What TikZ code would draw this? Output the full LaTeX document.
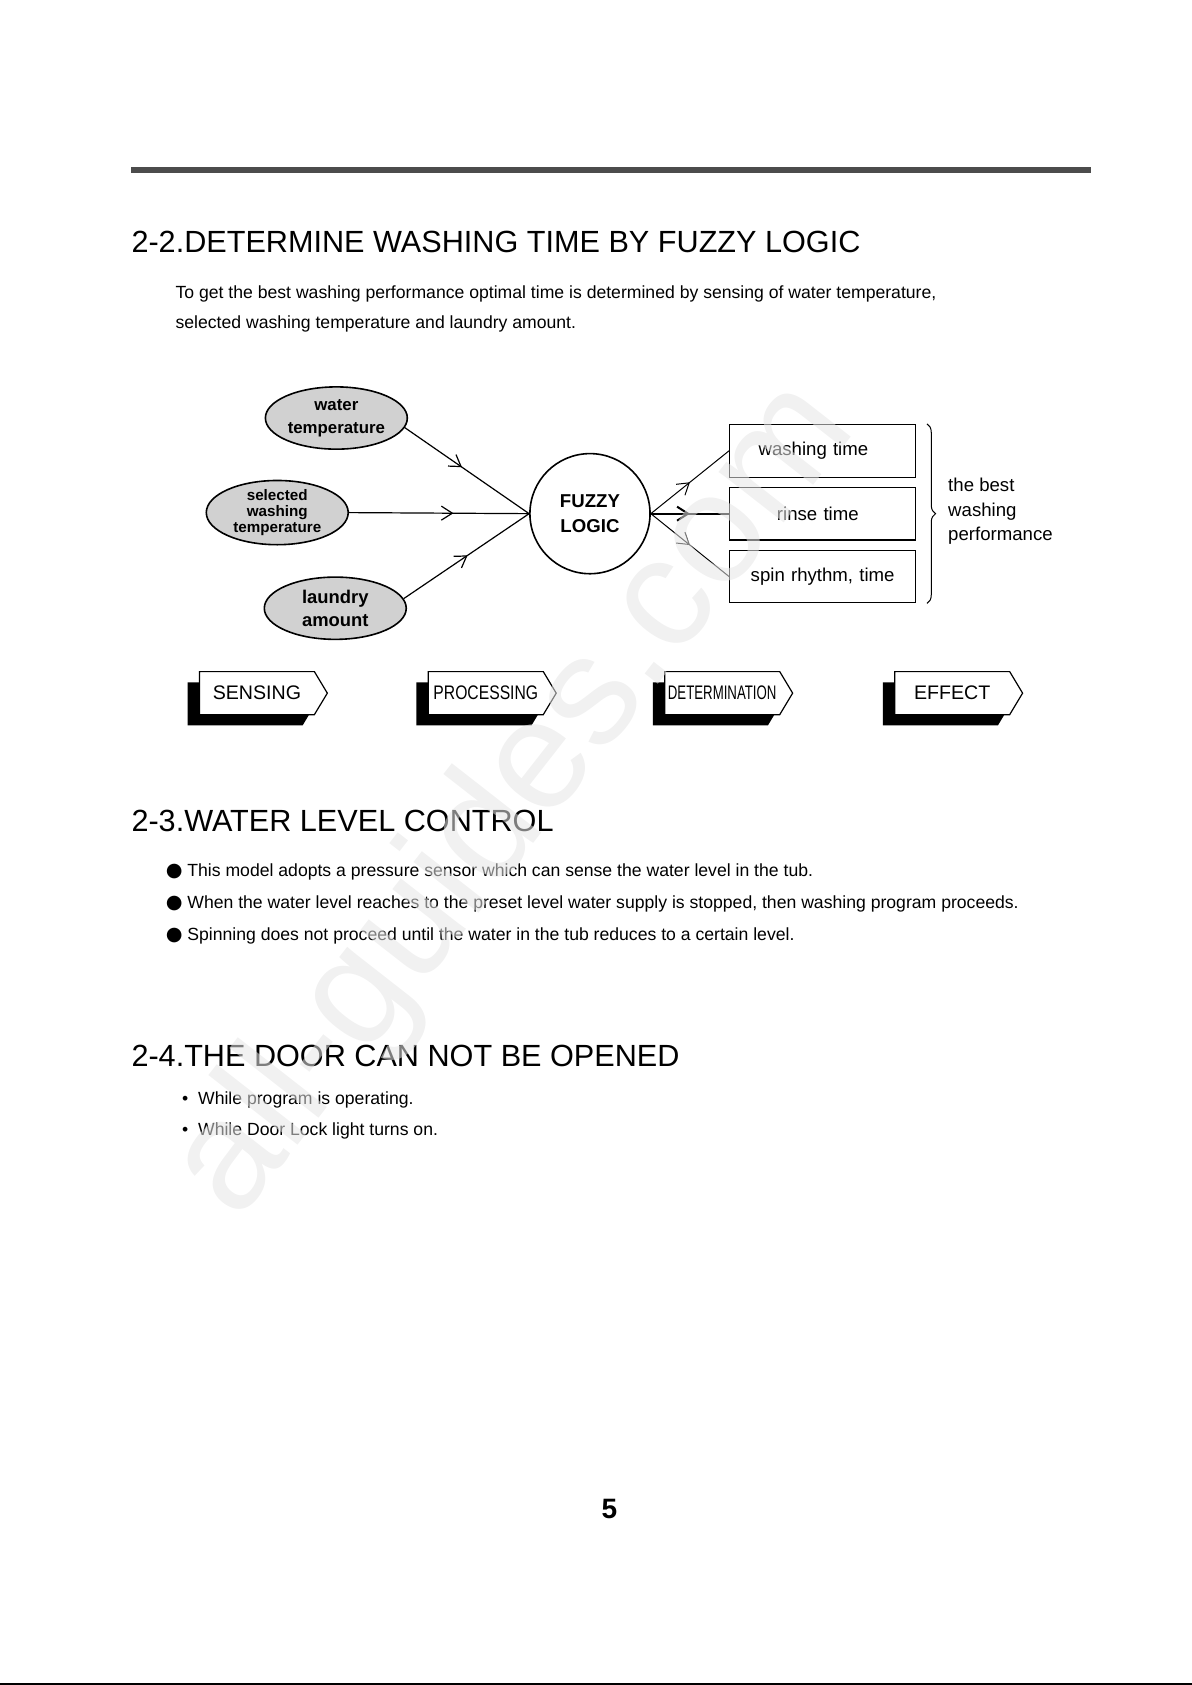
\documentclass[tikz,border=0pt]{standalone}
\usepackage{fontspec}
\setmainfont{Liberation Sans}
\newfontfamily\symfont{DejaVu Sans}
\usetikzlibrary{shapes.geometric,shapes.symbols,shadows,arrows.meta,decorations.markings,decorations.pathreplacing}

\definecolor{ovalgray}{gray}{0.82}
\definecolor{rulegray}{gray}{0.30}

\newcommand\headfont{\fontsize{15.3}{18}\selectfont}
\newcommand\bodyfont{\fontsize{8.8}{10.5}\selectfont}
\newcommand\labelfont{\fontsize{9.3}{12.4}\selectfont}
\newcommand\stepfont{\fontsize{9.8}{11}\selectfont}

\tikzset{
  every node/.style={inner sep=0pt},
  textline/.style={anchor=base west},
  input/.style={ellipse,draw,line width=0.8pt,fill=ovalgray,minimum width=70.9pt,minimum height=31.1pt,align=center},
  output/.style={rectangle,draw,line width=0.6pt,minimum width=92.9pt,minimum height=26.3pt,text width=92.9pt,align=center,font=\labelfont},
  stepbox/.style={signal,signal to=east,signal from=nowhere,signal pointer angle=118,draw,line width=0.6pt,fill=white,
    minimum width=63.9pt,minimum height=21.5pt,font=\stepfont,anchor=west,
    drop shadow={shadow xshift=-5.9pt,shadow yshift=-5.4pt,fill=black,opacity=1}},
  midarrow/.style={postaction={decorate},decoration={markings,mark=at position #1 with {\arrow{Straight Barb[length=5.5pt,width=7pt]}}}},
}

\begin{document}
\begin{tikzpicture}[x=0.5368pt,y=-0.5368pt]
\useasboundingbox (0,0) rectangle (1109,1568);

% top rule
\fill[rulegray] (122,155.5) rectangle (1015,161);

% 2-2
\node[textline,font=\headfont] (h22) at (122,235) {2-2.DETERMINE WASHING TIME BY FUZZY LOGIC};
\node[textline,font=\bodyfont] (intro1) at (163,278) {To get the best washing performance optimal time is determined by sensing of water temperature,};
\node[textline,font=\bodyfont] (intro2) at (163,306) {selected washing temperature and laundry amount.};

% inputs
\node[input,font={\bfseries\fontsize{8.4}{11.3}\selectfont}] (wtemp) at (313,389) {water\\temperature};
\node[input,font={\bfseries\fontsize{7.6}{7.8}\selectfont}] (swtemp) at (258,477) {selected\\washing\\temperature};
\node[input,font={\bfseries\fontsize{9.2}{11.3}\selectfont}] (laundry) at (312,566) {laundry\\amount};

\node[circle,draw,line width=0.8pt,minimum size=60pt,align=center,font={\bfseries\labelfont}] (fuzzy) at (549,478) {FUZZY\\LOGIC};

\draw[line width=0.6pt,midarrow=0.46] (wtemp.-8) -- (fuzzy.west);
\draw[line width=0.6pt,midarrow=0.58] (swtemp.east) -- (fuzzy.west);
\draw[line width=0.6pt,midarrow=0.51] (laundry.8) -- (fuzzy.west);

% outputs
\node[output] (wtime) at (765.5,419.5) {\hspace*{-9.2pt}washing time};
\node[output] (rtime) at (765.5,478) {\hspace*{-4.8pt}rinse time};
\node[output] (stime) at (765.5,536.5) {spin rhythm, time};

\draw[line width=0.5pt,midarrow=0.5] (fuzzy.east) -- (wtime.west);
\draw[line width=1pt,midarrow=0.5] (fuzzy.east) -- (rtime.west);
\draw[line width=0.5pt,midarrow=0.5] (fuzzy.east) -- (stime.west);

\draw[line width=0.5pt,decorate,decoration={brace,amplitude=4.3pt}] (wtime.north east) ++(10,0) coordinate (btop)
  -- (stime.south east -| btop) coordinate (bbot);
\node[anchor=west,align=left,font={\fontsize{9.3}{12.3}\selectfont}] (best) at (882,476) {the best\\washing\\performance};

% steps
\node[stepbox] (sensing) at (185,645) {SENSING};
\node[stepbox] (processing) at (398,645) {\scalebox{0.8}[1]{PROCESSING}};
\node[stepbox] (determination) at (618,645) {\scalebox{0.675}[1]{DETERMINATION}};
\node[stepbox] (effect) at (832,645) {EFFECT};

% 2-3
\node[textline,font=\headfont] (h23) at (122,774) {2-3.WATER LEVEL CONTROL};
\foreach \y/\txt [count=\i] in {816/{This model adopts a pressure sensor which can sense the water level in the tub.},
    845/{When the water level reaches to the preset level water supply is stopped, then washing program proceeds.},
    875/{Spinning does not proceed until the water in the tub reduces to a certain level.}}{
  \node[textline,font={\symfont\fontsize{9.6}{11}\selectfont}] (dot\i) at (154,\y) {●};
  \node[textline,font=\bodyfont] (level\i) at (174,\y) {\txt};
}

% 2-4
\node[textline,font=\headfont] (h24) at (122,992) {2-4.THE DOOR CAN NOT BE OPENED};
\node[textline,font=\bodyfont] (door1dot) at (169,1028) {•};
\node[textline,font=\bodyfont] (door1) at (184,1028) {While program is operating.};
\node[textline,font=\bodyfont] (door2dot) at (169,1057) {•};
\node[textline,font=\bodyfont] (door2) at (184,1057) {While Door Lock light turns on.};

% page number
\node[font={\bfseries\fontsize{14}{16}\selectfont}] (page) at (567,1404) {5};

\draw[line width=1.2pt] (0,1567) -- (1109,1567);

% watermark
\node[rotate=52,font={\fontsize{78}{80}\selectfont},text=gray!20,text opacity=0.55] (wmark) at (480,745) {all-guides.com};
\end{tikzpicture}
\end{document}
